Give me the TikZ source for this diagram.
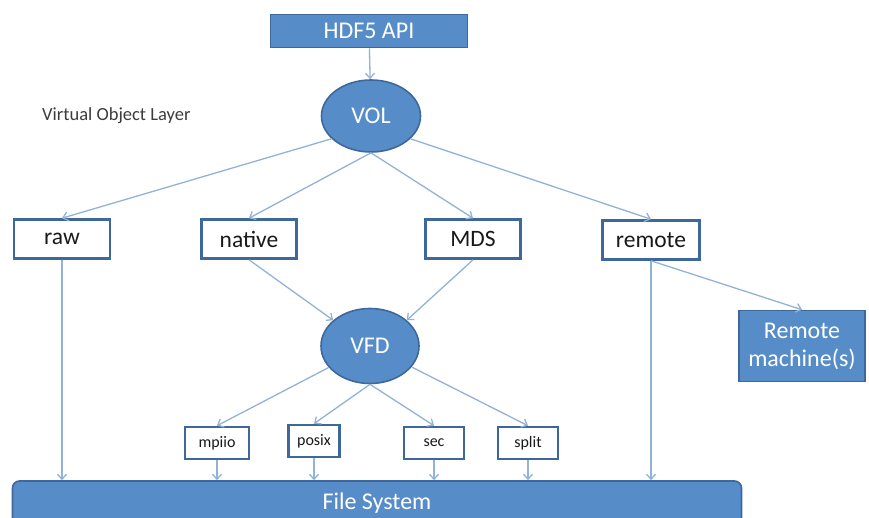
\documentclass[tikz,border=0pt]{standalone}
\usepackage{fontspec}
\setmainfont{Carlito}
\usetikzlibrary{shapes.geometric,arrows.meta}

\definecolor{bleu}{RGB}{86,140,200}
\definecolor{bleufonce}{RGB}{62,104,156}
\definecolor{fleche}{RGB}{146,178,214}
\definecolor{texte}{RGB}{25,25,25}
\definecolor{gristexte}{RGB}{60,60,60}

\begin{document}
\begin{tikzpicture}[x=1pt, y=-1pt,
    plein/.style={draw=bleufonce, line width=1.6pt, fill=bleu, text=white,
        font=\fontsize{24}{28}\selectfont, inner sep=0pt},
    boite/.style={draw=bleufonce, line width=2.6pt, fill=white, text=texte,
        font=\fontsize{23.5}{26}\selectfont, minimum height=39pt, inner sep=0pt},
    petite/.style={boite, font=\fontsize{16}{18}\selectfont, minimum height=32pt},
    fl/.style={draw=fleche, line width=1.3pt, -{Straight Barb[length=5pt,width=9pt]}}]
    \useasboundingbox (0,0) rectangle (869,518);

    % API et VOL
    \node[plein, minimum width=197pt, minimum height=33pt] (api) at (369,31) {HDF5 API};
    \node[plein, ellipse, minimum width=99pt, minimum height=72pt] (vol) at (371,116) {VOL};
    \node[text=gristexte, font=\fontsize{18.5}{20}\selectfont, anchor=west, inner sep=0pt]
        (vollabel) at (42,116) {Virtual Object Layer};

    % Connecteurs VOL
    \node[boite, minimum width=96pt] (raw) at (62,239) {raw};
    \node[boite, minimum width=95pt] (native) at (249,239) {native};
    \node[boite, minimum width=95pt] (mds) at (473,239) {MDS};
    \node[boite, minimum width=97pt] (remote) at (651,240) {remote};

    % VFD et machine distante
    \node[plein, ellipse, minimum width=98pt, minimum height=75pt] (vfd) at (370,346) {VFD};
    \node[plein, minimum width=126pt, minimum height=71pt, align=center,
        font=\fontsize{24}{28}\selectfont] (rmach) at (802,346) {Remote\\machine(s)};

    % Pilotes VFD
    \node[petite, minimum width=64pt] (mpiio) at (217,443) {mpiio};
    \node[petite, minimum width=51pt] (posix) at (314,441) {posix};
    \node[petite, minimum width=60pt] (sec) at (434,443) {sec};
    \node[petite, minimum width=60pt] (split) at (528,443) {split};

    % Systeme de fichiers
    \node[plein, rounded corners=7pt, minimum width=729pt, minimum height=44pt] (fs) at (377,503) {File System};

    % Fleches
    \draw[fl] (api) -- (vol);
    \draw[fl] (vol.210) -- (raw.north);
    \draw[fl] (vol.south) -- (native.north);
    \draw[fl] (vol.south) -- (mds.north);
    \draw[fl] (vol.-30) -- (remote.north);
    \draw[fl] (raw) -- (raw |- fs.north);
    \draw[fl] (native.south) -- (vfd.145);
    \draw[fl] (mds.south) -- (vfd.35);
    \draw[fl] (remote) -- (remote |- fs.north);
    \draw[fl] (remote.south) -- (rmach.north);
    \draw[fl] (vfd) -- (mpiio.north);
    \draw[fl] (vfd.south) -- (posix.north);
    \draw[fl] (vfd.south) -- (sec.north);
    \draw[fl] (vfd) -- (split.north);
    \foreach \d in {mpiio,posix,sec,split}
        \draw[fl] (\d) -- (\d |- fs.north);
\end{tikzpicture}
\end{document}
